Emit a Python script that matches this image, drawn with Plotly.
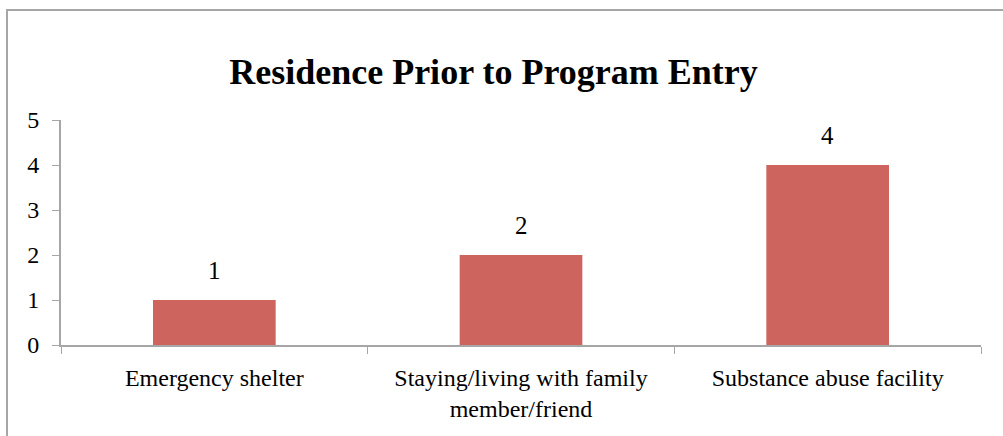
import plotly.graph_objects as go

# dados
categorias = ["Emergency shelter", "Staying/living with family<br>member/friend", "Substance abuse facility"]
valores = [1, 2, 4]
ticks_y = [0, 1, 2, 3, 4, 5]

cor_barra = "#CD655E"
cor_eixo = "#A6A6A6"
fonte = "Liberation Serif, Times New Roman, serif"

fig = go.Figure(go.Bar(
    x=categorias,
    y=valores,
    marker=dict(color=cor_barra, line=dict(width=0)),
    width=0.4,
))

# rótulos de valor acima das barras
for cat, val in zip(categorias, valores):
    fig.add_annotation(
        x=cat, y=val, text=str(val), showarrow=False,
        yanchor="middle", yshift=30,
        font=dict(size=25, family=fonte, color="#000000"),
    )

fig.update_layout(
    width=1003,
    height=436,
    margin=dict(l=61, r=22, t=120, b=91),
    plot_bgcolor="white",
    paper_bgcolor="white",
    font=dict(family=fonte, color="#000000", size=24),
    title=dict(
        text="<b>Residence Prior to Program Entry</b>",
        x=0.492, xanchor="center", y=0.836, yanchor="middle",
        font=dict(size=36, family=fonte, color="#000000"),
    ),
    showlegend=False,
    xaxis=dict(
        range=[-0.5, 2.5],
        showline=True, linecolor=cor_eixo, linewidth=2,
        ticks="outside", tickson="boundaries", ticklen=7, tickcolor=cor_eixo, tickwidth=1,
        tickfont=dict(size=24), ticklabelstandoff=10,
        showgrid=False, zeroline=False,
    ),
    yaxis=dict(
        range=[0, 5], tickvals=ticks_y,
        showline=True, linecolor=cor_eixo, linewidth=2,
        ticks="outside", ticklen=7, tickcolor=cor_eixo, tickwidth=1,
        tickfont=dict(size=24), ticklabelstandoff=8,
        showgrid=False, zeroline=False,
    ),
    shapes=[dict(
        type="rect", xref="paper", yref="paper",
        x0=(7 - 61) / 920, x1=1.2, y0=-0.6, y1=(345 - 10) / 225,
        line=dict(color="#A6A6A6", width=2), fillcolor="rgba(0,0,0,0)",
    )],
)

fig.write_html("out.html", config={"displayModeBar": False},
               post_script="document.body.style.margin='0';")
